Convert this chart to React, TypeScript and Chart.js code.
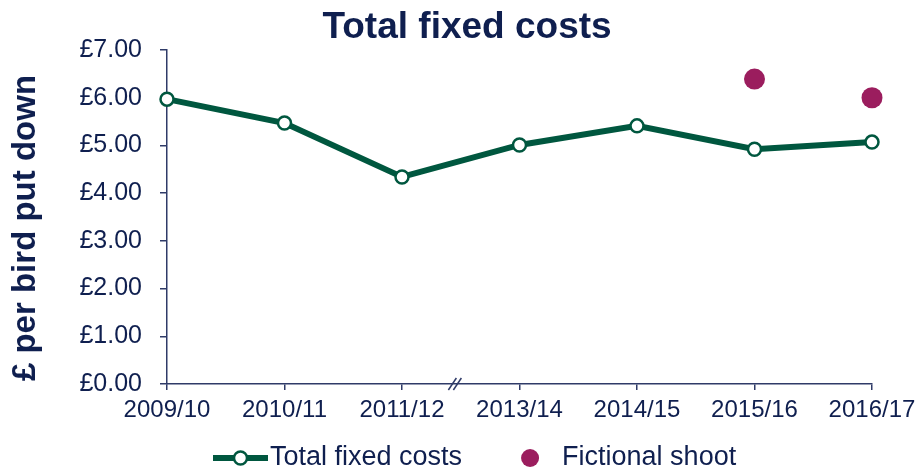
import React, { useEffect, useRef } from 'react';
import { Chart, registerables } from 'chart.js';

Chart.register(...registerables);

const categories = ['2009/10', '2010/11', '2011/12', '2013/14', '2014/15', '2015/16', '2016/17'];
const totalFixedCosts = [5.97, 5.47, 4.34, 5.01, 5.41, 4.92, 5.07];
const fictionalShoot: (number | null)[] = [null, null, null, null, null, 6.39, 6.0];
const seriesNames = ['Total fixed costs', 'Fictional shoot'];
const chartTitle = 'Total fixed costs';
const yAxisTitle = '£ per bird put down';
const yMin = 0;
const yMax = 7;
const yStep = 1;
const breakAfterIndex = 2; // axis break between 2011/12 and 2013/14

const NAVY = '#0f1f4f';
const GREEN = '#00573f';
const PURPLE = '#9b1d5e';
const AXIS = '#2f3b68';
const FONT = '"Liberation Sans", Arial, Helvetica, sans-serif';

const overlayPlugin = {
  id: 'overlay',
  afterDraw(chart: any) {
    const ctx: CanvasRenderingContext2D = chart.ctx;
    const xs = chart.scales.x;
    const ys = chart.scales.y;

    // Chart title
    ctx.save();
    ctx.fillStyle = NAVY;
    ctx.font = `bold 37px ${FONT}`;
    ctx.textAlign = 'center';
    ctx.textBaseline = 'middle';
    ctx.fillText(chartTitle, 467, 28);
    ctx.restore();

    // Y axis title
    ctx.save();
    ctx.fillStyle = NAVY;
    ctx.font = `bold 33px ${FONT}`;
    ctx.textAlign = 'center';
    ctx.textBaseline = 'middle';
    ctx.translate(26, 228);
    ctx.rotate(-Math.PI / 2);
    ctx.fillText(yAxisTitle, 0, 0);
    ctx.restore();

    // Axis break marker
    const bx = xs.getPixelForValue(breakAfterIndex + 0.45);
    const by = ys.bottom;
    ctx.save();
    ctx.strokeStyle = AXIS;
    ctx.lineWidth = 1.5;
    for (const dx of [-2.5, 2.5]) {
      ctx.beginPath();
      ctx.moveTo(bx + dx - 4, by + 6);
      ctx.lineTo(bx + dx + 4, by - 6);
      ctx.stroke();
    }
    ctx.restore();

    // Legend
    const ly = 458;
    ctx.save();
    ctx.font = `27px ${FONT}`;
    ctx.textBaseline = 'middle';
    ctx.textAlign = 'left';
    const x = 213;
    ctx.strokeStyle = GREEN;
    ctx.lineWidth = 6;
    ctx.beginPath();
    ctx.moveTo(x, ly);
    ctx.lineTo(x + 55, ly);
    ctx.stroke();
    ctx.beginPath();
    ctx.arc(x + 27.5, ly, 6.5, 0, Math.PI * 2);
    ctx.fillStyle = '#ffffff';
    ctx.fill();
    ctx.lineWidth = 2.5;
    ctx.stroke();
    ctx.fillStyle = NAVY;
    ctx.fillText(seriesNames[0], x + 57, ly);
    const w1 = ctx.measureText(seriesNames[0]).width;
    const cx = x + 57 + w1 + 68;
    ctx.beginPath();
    ctx.arc(cx, ly, 9, 0, Math.PI * 2);
    ctx.fillStyle = PURPLE;
    ctx.fill();
    ctx.fillStyle = NAVY;
    ctx.fillText(seriesNames[1], cx + 32, ly);
    ctx.restore();
  },
};

export default function App() {
  const canvasRef = useRef<HTMLCanvasElement | null>(null);

  useEffect(() => {
    document.body.style.margin = '0';
    const canvas = canvasRef.current;
    if (!canvas) return;
    Chart.defaults.font.family = FONT;
    const chart = new Chart(canvas, {
      type: 'line',
      data: {
        labels: categories,
        datasets: [
          {
            label: seriesNames[0],
            data: totalFixedCosts,
            borderColor: GREEN,
            borderWidth: 6,
            backgroundColor: '#ffffff',
            pointRadius: 6.5,
            pointBorderWidth: 2.5,
            pointBackgroundColor: '#ffffff',
            pointBorderColor: GREEN,
            tension: 0,
            clip: false as any,
          },
          {
            label: seriesNames[1],
            data: fictionalShoot,
            showLine: false,
            pointRadius: 10.5,
            pointBorderWidth: 0,
            pointBackgroundColor: PURPLE,
            pointBorderColor: PURPLE,
            backgroundColor: PURPLE,
            clip: false as any,
          },
        ],
      },
      options: {
        animation: false,
        responsive: true,
        maintainAspectRatio: false,
        layout: { autoPadding: false, padding: { left: 0, right: 47, top: 50, bottom: 47 } },
        plugins: {
          legend: { display: false },
          title: { display: false },
          tooltip: { enabled: false },
        },
        scales: {
          x: {
            type: 'category',
            offset: false,
            grid: { display: true, drawOnChartArea: false, drawTicks: true, tickLength: 6, color: AXIS, lineWidth: 1.5 },
            border: { display: true, color: AXIS, width: 1.5 },
            ticks: { color: NAVY, font: { size: 24, family: FONT }, padding: 6, maxRotation: 0, autoSkip: false },
            afterFit: (s: any) => { s.height = 40; s.paddingLeft = 0; s.paddingRight = 0; },
          },
          y: {
            min: yMin,
            max: yMax,
            grid: { display: true, drawOnChartArea: false, drawTicks: true, tickLength: 7, color: AXIS, lineWidth: 1.5 },
            border: { display: true, color: AXIS, width: 1.5 },
            ticks: {
              stepSize: yStep,
              color: NAVY,
              font: { size: 25, family: FONT },
              padding: 18,
              callback: (v: any) => '£' + Number(v).toFixed(2),
            },
            afterFit: (s: any) => { s.width = 167; },
          },
        },
      },
      plugins: [overlayPlugin],
    });
    return () => chart.destroy();
  }, []);

  return (
    <div style={{ position: 'absolute', left: 0, top: 0, width: 919, height: 471 }}>
      <canvas ref={canvasRef} />
    </div>
  );
}
